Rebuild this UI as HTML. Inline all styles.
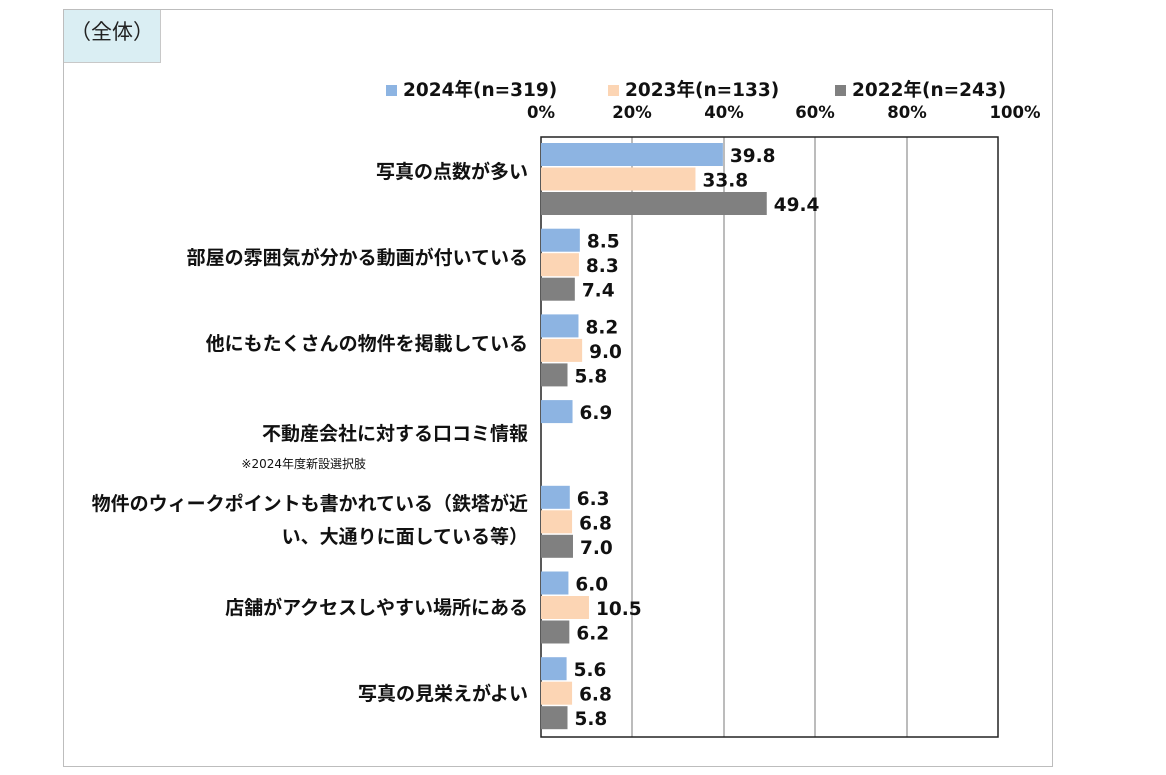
<!DOCTYPE html>
<html><head><meta charset="utf-8"><style>
body{margin:0;width:1166px;height:775px;background:#fff;position:relative;font-family:"DejaVu Sans","Noto Sans CJK JP",sans-serif;overflow:hidden}
.a{position:absolute;white-space:nowrap}
.b{font-weight:bold;font-size:18.5px;color:#111}
</style></head><body>
<div class="a" style="left:63px;top:9px;width:988px;height:756px;border:1px solid #bdbdbd"></div>
<div class="a" style="left:64px;top:10px;width:96px;height:52px;background:#daeef3;border-right:1px solid #c8c8c8;border-bottom:1px solid #c8c8c8"></div>
<div class="a" style="left:70px;top:16px;font-size:21px;color:#222;font-family:'Noto Sans CJK JP',sans-serif">（全体）</div>
<div class="a b" style="left:386px;top:76px"><span style="display:inline-block;width:11px;height:11px;background:#8db4e2;margin-right:6px"></span>2024年(n=319)</div>
<div class="a b" style="left:608px;top:76px"><span style="display:inline-block;width:11px;height:11px;background:#fcd5b4;margin-right:6px"></span>2023年(n=133)</div>
<div class="a b" style="left:835px;top:76px"><span style="display:inline-block;width:11px;height:11px;background:#808080;margin-right:6px"></span>2022年(n=243)</div>
<svg class="a" style="left:0;top:0" width="1166" height="775">
<g font-family="DejaVu Sans, Noto Sans CJK JP, sans-serif" font-weight="bold" font-size="16.5" fill="#111">
<text x="541" y="118" text-anchor="middle">0%</text>
<text x="632" y="118" text-anchor="middle">20%</text>
<text x="724" y="118" text-anchor="middle">40%</text>
<text x="815" y="118" text-anchor="middle">60%</text>
<text x="907" y="118" text-anchor="middle">80%</text>
<text x="1015" y="118" text-anchor="middle">100%</text>
</g>
<g stroke="#a6a6a6" stroke-width="1.5"><line x1="632" y1="137" x2="632" y2="737"/><line x1="724" y1="137" x2="724" y2="737"/><line x1="815" y1="137" x2="815" y2="737"/><line x1="907" y1="137" x2="907" y2="737"/></g>
<rect x="541" y="137" width="457" height="600" fill="none" stroke="#222" stroke-width="1.5"/>
<g id="bars" font-family="DejaVu Sans, sans-serif" font-weight="bold" font-size="18.5" fill="#111"></g>
<g font-family="DejaVu Sans, Noto Sans CJK JP, sans-serif" font-weight="bold" font-size="19" fill="#111" text-anchor="end">
<text x="528" y="178">写真の点数が多い</text>
<text x="528" y="264">部屋の雰囲気が分かる動画が付いている</text>
<text x="528" y="350">他にもたくさんの物件を掲載している</text>
<text x="528" y="440">不動産会社に対する口コミ情報</text>
<text x="366" y="468" font-size="12" font-weight="normal">※2024年度新設選択肢</text>
<text x="528" y="510">物件のウィークポイントも書かれている（鉄塔が近</text>
<text x="528" y="543">い、大通りに面している等）</text>
<text x="528" y="614">店舗がアクセスしやすい場所にある</text>
<text x="528" y="700">写真の見栄えがよい</text>
</g>
</svg>
<script>
var d=[[39.8,33.8,49.4],[8.5,8.3,7.4],[8.2,9.0,5.8],[6.9,null,null],[6.3,6.8,7.0],[6.0,10.5,6.2],[5.6,6.8,5.8]];
var c=["#8db4e2","#fcd5b4","#808080"],g=document.getElementById("bars"),h="";
d.forEach(function(r,i){r.forEach(function(v,j){if(v==null)return;var y=143+i*85.7+j*24.5,w=v*4.57;
h+='<rect x="541" y="'+y+'" width="'+w+'" height="23" fill="'+c[j]+'"/>';
h+='<text x="'+(541+w+7)+'" y="'+(y+19)+'">'+v.toFixed(1)+'</text>';});});
g.innerHTML=h;
</script>
</body></html>
